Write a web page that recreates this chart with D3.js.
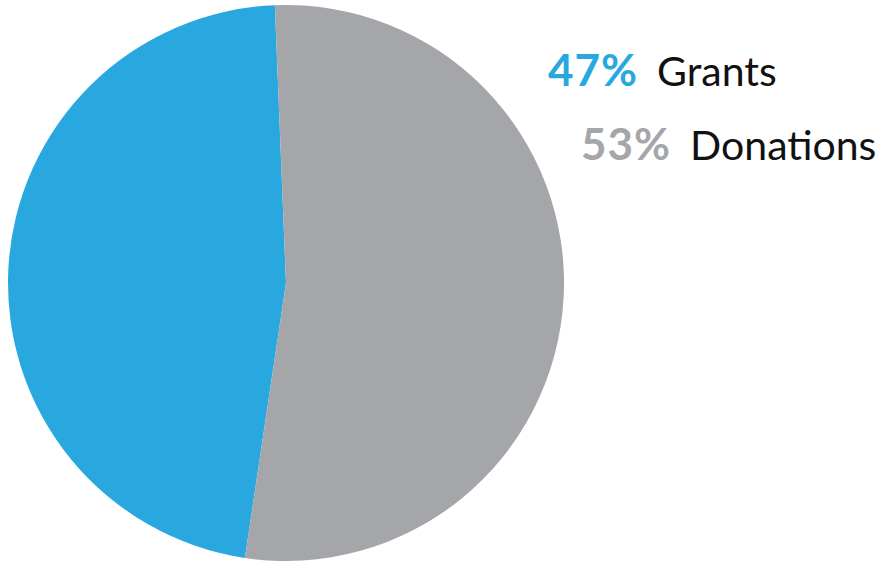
<!DOCTYPE html>
<html><head><meta charset="utf-8">
<script src="https://cdn.jsdelivr.net/npm/d3@7"></script>
<style>html,body{margin:0;padding:0;background:#fff;}svg{display:block;}</style>
</head><body>
<script>
const categories = ["Grants", "Donations"];
const values = [47, 53];
const labels = ["47%", "53%"];
const colors = ["#29a8e0", "#a5a6aa"];

const W = 877, H = 561;
const svg = d3.select("body").append("svg").attr("width", W).attr("height", H);
const cx = 286, cy = 283, r = 278;
const start = (188.5) * Math.PI / 180;
const pie = d3.pie().sort(null).startAngle(start).endAngle(start + 2 * Math.PI);
const arc = d3.arc().innerRadius(0).outerRadius(r);
const g = svg.append("g").attr("transform", `translate(${cx},${cy})`);
g.selectAll("path").data(pie(values)).join("path")
  .attr("d", arc).attr("fill", (d, i) => colors[i]);

const legendPos = [{x: 548, y: 86}, {x: 581, y: 160}];
const font = "'Century Gothic', 'URW Gothic', Lato, 'DejaVu Sans', sans-serif";
categories.forEach((c, i) => {
  const t = svg.append("text").attr("x", legendPos[i].x).attr("y", legendPos[i].y)
    .attr("font-family", font);
  t.append("tspan").attr("font-weight", "bold").attr("font-size", 44).attr("letter-spacing", 1)
    .attr("fill", colors[i]).text(labels[i]);
  t.append("tspan").attr("dx", 19).attr("font-size", 41).attr("letter-spacing", 0)
    .attr("fill", "#111").text(c);
});
</script>
</body></html>
